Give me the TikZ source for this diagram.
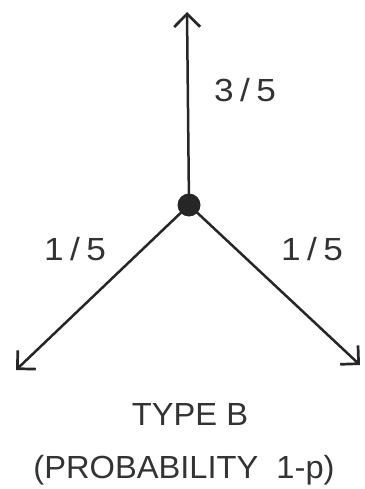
\documentclass[tikz,border=0pt]{standalone}
\usepackage{fontspec}
\setmainfont{Liberation Sans}
\newfontfamily\plotfont[FakeStretch=1.02]{Liberation Sans}
\newfontfamily\digitfont[FakeStretch=1.1]{Liberation Sans}
\newcommand{\frc}[2]{#1\hspace{0.2em}/\hspace{0.2em}#2}
\usetikzlibrary{arrows.meta}
\begin{document}
\begin{tikzpicture}[x=1pt,y=-1pt,
  edge/.style={line width=2.5pt, draw=black!85, -{Straight Barb[length=13pt,width=26pt,line width=2.7pt]}},
  lbl/.style={font=\plotfont\fontsize{32}{36}\selectfont, text=black!80, inner sep=0pt},
  num/.style={font=\digitfont\fontsize{32}{36}\selectfont, text=black!80, inner sep=0pt}]
\useasboundingbox (0,0) rectangle (364,489);
\node[circle, fill=black!85, minimum size=23pt, inner sep=0pt] (c) at (189,205) {};
\coordinate (u) at (187,12);
\coordinate (l) at (16,370);
\coordinate (r) at (360,365);
\draw[edge] (c.center) -- (u);
\draw[edge] (c.center) -- (l);
\draw[edge] (c.center) -- (r);
\node[num, anchor=base] (t1) at (245,102) {\frc{3}{5}};
\node[num, anchor=base] (t2) at (75,260) {\frc{1}{5}};
\node[num, anchor=base] (t3) at (312,260) {\frc{1}{5}};
\node[lbl, anchor=base] (t4) at (190,425) {TYPE B};
\node[lbl, anchor=base] (t5) at (184,478) {(PROBABILITY\ \ 1-p)};
\end{tikzpicture}
\end{document}
